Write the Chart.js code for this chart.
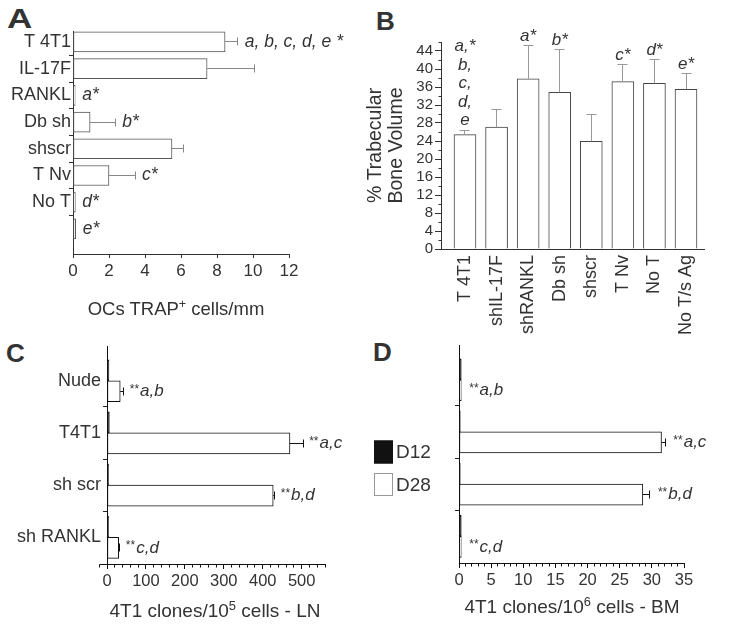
<!DOCTYPE html>
<html><head><meta charset="utf-8">
<script src="https://cdn.jsdelivr.net/npm/chart.js@4.4.1/dist/chart.umd.min.js"></script>
<style>
html,body{margin:0;padding:0;background:#fff;}
body{width:730px;height:625px;position:relative;overflow:hidden;font-family:"Liberation Sans",Arial,sans-serif;color:#333;}
.pane{position:absolute;}
.pane canvas{display:block;}
.letter{position:absolute;font-weight:bold;line-height:1;color:#333;transform-origin:left top;white-space:nowrap;}
.title{position:absolute;white-space:nowrap;line-height:1;color:#333;text-align:center;}
.title sup{font-size:0.68em;vertical-align:0.55em;line-height:0;}
</style></head><body>

<div class="letter" style="left:7px;top:4.6px;font-size:28px;transform:scaleX(1.25);">A</div>
<div class="letter" style="left:376px;top:8px;font-size:26px;">B</div>
<div class="letter" style="left:6px;top:339.7px;font-size:26px;">C</div>
<div class="letter" style="left:373px;top:338.7px;font-size:26px;">D</div>

<div class="pane" style="left:0;top:0;"><canvas id="cA" width="365" height="320"></canvas></div>
<div class="pane" style="left:365px;top:0;"><canvas id="cB" width="365" height="340"></canvas></div>
<div class="pane" style="left:0;top:320px;"><canvas id="cC" width="365" height="305"></canvas></div>
<div class="pane" style="left:365px;top:320px;"><canvas id="cD" width="365" height="305"></canvas></div>

<div class="title" style="left:26px;width:300px;top:300.3px;font-size:18.5px;">OCs TRAP<sup>+</sup> cells/mm</div>
<div class="title" style="left:65px;width:300px;top:600.6px;font-size:19px;">4T1 clones/10<sup>5</sup> cells - LN</div>
<div class="title" style="left:422px;width:300px;top:597px;font-size:19px;">4T1 clones/10<sup>6</sup> cells - BM</div>

<script>
// ---------- DATA ----------
// Panel A: OCs TRAP+ cells/mm
const catsA  = ["T 4T1", "IL-17F", "RANKL", "Db sh", "shscr", "T Nv", "No T", ""];
const valsA  = [8.45, 7.45, 0.12, 0.95, 5.5, 2.0, 0.13, 0.15];
const errA   = [0.7, 2.65, 0, 1.4, 0.65, 1.45, 0, 0];
const notesA = ["a, b, c, d, e *", "", "a*", "b*", "", "c*", "d*", "e*"];
const ticksA = [0, 2, 4, 6, 8, 10, 12];

// Panel B: % Trabecular Bone Volume
const catsB  = ["T 4T1", "shIL-17F", "shRANKL", "Db sh", "shscr", "T Nv", "No T", "No T/s Ag"];
const valsB  = [25.4, 27.1, 37.8, 34.8, 23.9, 37.2, 36.8, 35.5];
const errB   = [1.0, 4.0, 7.4, 9.5, 5.9, 3.8, 5.3, 3.5];
const notesB = [["a,*", "b,", "c,", "d,", "e"], [], ["a*"], ["b*"], [], ["c*"], ["d*"], ["e*"]];
const ticksB = [0, 4, 8, 12, 16, 20, 24, 28, 32, 36, 40, 44];

// Panels C & D: 4T1 clones
const catsCD    = ["Nude", "T4T1", "sh scr", "sh RANKL"];
const seriesCD  = ["D12", "D28"];
const cD12      = [5, 6, 4, 4];
const cD28      = [34, 470, 427, 30];
const cErr28    = [9, 34, 4, 3];
const notesC    = ["**a,b", "**a,c", "**b,d", "**c,d"];
const ticksC    = [0, 100, 200, 300, 400, 500];
const dD12      = [0.35, 0.2, 0.2, 0.35];
const dD28      = [0.35, 31.5, 28.6, 0.35];
const dErr28    = [0, 0.6, 1.1, 0];
const notesD    = ["**a,b", "**a,c", "**b,d", "**c,d"];
const ticksD    = [0, 5, 10, 15, 20, 25, 30, 35];

// ---------- HELPERS ----------
const FAM = '"Liberation Sans", Arial, sans-serif';
Chart.defaults.font.family = FAM;
Chart.defaults.color = '#333';
Chart.defaults.animation = false;

const al = p => Math.round(p - 0.5) + 0.5;
const innerTicks = color => ctx => (ctx.type === 'tick' && ctx.index > 0) ? color : 'rgba(0,0,0,0)';
const asPoints = (vals, horiz) => vals.map((v, i) => horiz ? {x: v, y: i} : {x: i, y: v});

function drawRich(c, t, x, y, font, starFont) {
  c.textBaseline = 'middle';
  c.textAlign = 'left';
  let s = t;
  if (t.startsWith('**')) {
    c.font = starFont;
    c.fillText('**', x, y - 2);
    x += c.measureText('**').width + 1;
    s = t.slice(2);
  }
  c.font = font;
  c.fillText(s, x, y);
}

function deco(o) {
  return {
    id: 'deco',
    afterDraw(chart) {
      const c = chart.ctx;
      c.save();
      const horiz = chart.options.indexAxis === 'y';
      const vS = horiz ? chart.scales.x : chart.scales.y;
      const axCol = o.axisColor || '#333';
      c.lineWidth = 1;
      // minor ticks
      (o.minor || []).forEach(m => {
        const s = chart.scales[m.axis];
        c.strokeStyle = axCol;
        c.beginPath();
        for (let k = Math.ceil(m.from / m.step); k * m.step <= s.max + 1e-9; k++) {
          const v = k * m.step;
          if (Math.abs(v / m.major - Math.round(v / m.major)) < 1e-6 && v >= 0) continue;
          const p = al(s.getPixelForValue(v));
          if (s.isHorizontal()) { const y0 = al(chart.chartArea.bottom); c.moveTo(p, y0); c.lineTo(p, y0 + m.len); }
          else { const x0 = al(chart.chartArea.left); c.moveTo(x0 - m.len, p); c.lineTo(x0, p); }
        }
        c.stroke();
      });
      // axis overhang to the left of zero
      if (o.overhang != null) {
        const xs = chart.scales.x, y0 = al(chart.chartArea.bottom);
        c.strokeStyle = axCol;
        c.beginPath();
        c.moveTo(al(xs.getPixelForValue(o.overhang)), y0);
        c.lineTo(chart.chartArea.left, y0);
        c.stroke();
      }
      // error bars
      (o.errs || []).forEach(eb => {
        const meta = chart.getDatasetMeta(eb.ds);
        c.strokeStyle = eb.color;
        c.lineWidth = 1;
        meta.data.forEach((el, i) => {
          const e = eb.errs[i];
          if (!e) return;
          const p = al(vS.getPixelForValue(eb.vals[i] + e));
          c.beginPath();
          if (horiz) {
            const y = al(el.y);
            c.moveTo(el.x, y); c.lineTo(p, y);
            c.moveTo(p, y - eb.cap); c.lineTo(p, y + eb.cap);
          } else {
            const x = al(el.x);
            c.moveTo(x, el.y); c.lineTo(x, p);
            c.moveTo(x - eb.cap, p); c.lineTo(x + eb.cap, p);
          }
          c.stroke();
        });
      });
      // notes
      (o.notes || []).forEach(nt => {
        const meta = chart.getDatasetMeta(nt.ds);
        c.fillStyle = '#333';
        meta.data.forEach((el, i) => {
          const t = nt.texts[i];
          if (!t || (Array.isArray(t) && !t.length)) return;
          const p = vS.getPixelForValue(nt.vals[i] + (nt.errs ? nt.errs[i] : 0));
          if (horiz) {
            drawRich(c, t, p + nt.gap, el.y + (nt.dy || 0), nt.font, nt.starFont);
          } else {
            c.font = nt.font;
            c.textAlign = 'center';
            c.textBaseline = 'alphabetic';
            const lines = t.slice().reverse();
            lines.forEach((ln, k) => c.fillText(ln, el.x + (nt.dx || 0), p - nt.gap - k * nt.lh));
          }
        });
      });
      // legend
      if (o.legend) {
        const L = o.legend;
        chart.data.datasets.forEach((ds, i) => {
          const y = L.y + i * L.dy;
          c.fillStyle = ds.backgroundColor;
          c.fillRect(L.x, y, L.w, L.h);
          c.strokeStyle = ds.legendBorder;
          c.strokeRect(L.x + 0.5, y + 0.5, L.w - 1, L.h - 1);
          c.fillStyle = '#333';
          c.font = L.font;
          c.textAlign = 'left';
          c.textBaseline = 'middle';
          c.fillText(ds.label, L.x + L.w + 3, y + L.h / 2 + 1);
        });
      }
      c.restore();
    }
  };
}

// ---------- PANEL A ----------
new Chart(document.getElementById('cA'), {
  type: 'bar',
  data: { datasets: [{
    data: asPoints(valsA, true),
    backgroundColor: '#fff', borderColor: '#555', borderWidth: 1, borderSkipped: false,
    barThickness: 20
  }]},
  options: {
    indexAxis: 'y', responsive: false, animation: false,
    layout: { padding: { left: 0, right: 76, top: 31, bottom: 0 } },
    plugins: { legend: { display: false }, tooltip: { enabled: false } },
    scales: {
      y: {
        type: 'linear', reverse: true, min: -0.41, max: 7.94, offset: false,
        afterBuildTicks: s => { s.ticks = catsA.map((_, i) => ({ value: i })); },
        afterFit: s => { s.width = 73; },
        ticks: { callback: v => catsA[v], autoSkip: false, font: { size: 18 }, color: '#333', padding: -2 },
        grid: { drawOnChartArea: false, offset: true, tickLength: 4, tickColor: innerTicks('#333') },
        border: { color: '#333', width: 1 }
      },
      x: {
        type: 'linear', min: ticksA[0], max: ticksA[ticksA.length - 1],
        afterBuildTicks: s => { s.ticks = ticksA.map(v => ({ value: v })); },
        afterFit: s => { s.height = 66; },
        ticks: { autoSkip: false, font: { size: 17 }, color: '#333', padding: 3 },
        grid: { drawOnChartArea: false, tickLength: 4, tickColor: '#333' },
        border: { color: '#333', width: 1 }
      }
    }
  },
  plugins: [deco({
    errs: [{ ds: 0, vals: valsA, errs: errA, color: '#888', cap: 4 }],
    notes: [{ ds: 0, vals: valsA, errs: errA, texts: notesA, gap: 7, font: 'italic 17.5px ' + FAM, starFont: '12px ' + FAM }]
  })]
});

// ---------- PANEL B ----------
new Chart(document.getElementById('cB'), {
  type: 'bar',
  data: { datasets: [{
    data: asPoints(valsB, false),
    backgroundColor: '#fff', borderColor: '#444', borderWidth: 1, borderSkipped: 'start',
    barThickness: 22
  }]},
  options: {
    responsive: false, animation: false,
    layout: { padding: { left: 0, right: 26, top: 42, bottom: 0 } },
    plugins: { legend: { display: false }, tooltip: { enabled: false } },
    scales: {
      x: {
        type: 'linear', min: -0.76, max: 7.57, offset: false,
        afterBuildTicks: s => { s.ticks = catsB.map((_, i) => ({ value: i })); },
        afterFit: s => { s.height = 91; },
        ticks: { callback: v => catsB[v], autoSkip: false, minRotation: 90, maxRotation: 90, font: { size: 18 }, color: '#333', padding: 6 },
        grid: { display: false, drawTicks: false },
        border: { display: true, color: '#333', width: 1 }
      },
      y: {
        type: 'linear', min: 0, max: 46,
        afterBuildTicks: s => { s.ticks = ticksB.map(v => ({ value: v })); },
        afterFit: s => { s.width = 76; },
        ticks: { autoSkip: false, font: { size: 15 }, color: '#333', padding: 2 },
        grid: { drawOnChartArea: false, tickLength: 6, tickColor: '#333' },
        border: { color: '#333', width: 1 },
        title: { display: true, text: ['% Trabecular', 'Bone Volume'], font: { size: 19.5, lineHeight: 1.08 }, color: '#333', padding: { top: 0, bottom: 0 } }
      }
    }
  },
  plugins: [deco({
    minor: [{ axis: 'y', from: 0, step: 2, major: 4, len: 3 }],
    errs: [{ ds: 0, vals: valsB, errs: errB, color: '#999', cap: 5 }],
    notes: [{ ds: 0, vals: valsB, errs: errB, texts: notesB, gap: 5, lh: 18.5, font: 'italic 17px ' + FAM }]
  })]
});

// ---------- PANEL C ----------
new Chart(document.getElementById('cC'), {
  type: 'bar',
  data: { datasets: [
    { label: seriesCD[0], data: asPoints(cD12, true), backgroundColor: '#111', borderColor: '#111', borderWidth: 1, borderSkipped: false, barThickness: 21 },
    { label: seriesCD[1], data: asPoints(cD28, true), backgroundColor: '#fff', borderColor: '#111', borderWidth: 1, borderSkipped: false, barThickness: 21 }
  ]},
  options: {
    indexAxis: 'y', responsive: false, animation: false,
    layout: { padding: { left: 0, right: 40, top: 26, bottom: 0 } },
    plugins: { legend: { display: false }, tooltip: { enabled: false } },
    scales: {
      y: {
        type: 'linear', reverse: true, min: -0.665, max: 3.51, offset: false,
        afterBuildTicks: s => { s.ticks = catsCD.map((_, i) => ({ value: i })); },
        afterFit: s => { s.width = 107; },
        ticks: { callback: v => catsCD[v], autoSkip: false, font: { size: 18 }, color: '#333', padding: 2 },
        grid: { drawOnChartArea: false, offset: true, tickLength: 4, tickColor: innerTicks('#222') },
        border: { color: '#111', width: 1 }
      },
      x: {
        type: 'linear', min: 0, max: 560,
        afterBuildTicks: s => { s.ticks = ticksC.map(v => ({ value: v })); },
        afterFit: s => { s.height = 61; },
        ticks: { autoSkip: false, font: { size: 16.5 }, color: '#333', padding: 3 },
        grid: { drawOnChartArea: false, tickLength: 5, tickColor: '#111' },
        border: { color: '#111', width: 1 }
      }
    }
  },
  plugins: [deco({
    axisColor: '#111', overhang: -20,
    minor: [{ axis: 'x', from: -20, step: 20, major: 100, len: 3 }],
    errs: [{ ds: 1, vals: cD28, errs: cErr28, color: '#111', cap: 4 }],
    notes: [{ ds: 1, vals: cD28, errs: cErr28, texts: notesC, gap: 6, font: 'italic 17px ' + FAM, starFont: '12px ' + FAM }]
  })]
});

// ---------- PANEL D ----------
new Chart(document.getElementById('cD'), {
  type: 'bar',
  data: { datasets: [
    { label: seriesCD[0], data: asPoints(dD12, true), backgroundColor: '#111', borderColor: '#111', borderWidth: 1, borderSkipped: false, barThickness: 21, legendBorder: '#111' },
    { label: seriesCD[1], data: asPoints(dD28, true), backgroundColor: '#fff', borderColor: '#111', borderWidth: 1, borderSkipped: false, barThickness: 21, legendBorder: '#999' }
  ]},
  options: {
    indexAxis: 'y', responsive: false, animation: false,
    layout: { padding: { left: 0, right: 46, top: 25, bottom: 0 } },
    plugins: { legend: { display: false }, tooltip: { enabled: false } },
    scales: {
      y: {
        type: 'linear', reverse: true, min: -0.665, max: 3.51, offset: false,
        afterBuildTicks: s => { s.ticks = catsCD.map((_, i) => ({ value: i })); },
        afterFit: s => { s.width = 94; },
        ticks: { display: false },
        grid: { drawOnChartArea: false, offset: true, tickLength: 4, tickColor: innerTicks('#222') },
        border: { color: '#111', width: 1 }
      },
      x: {
        type: 'linear', min: 0, max: 35,
        afterBuildTicks: s => { s.ticks = ticksD.map(v => ({ value: v })); },
        afterFit: s => { s.height = 62; },
        ticks: { autoSkip: false, font: { size: 16.5 }, color: '#333', padding: 3 },
        grid: { drawOnChartArea: false, tickLength: 5, tickColor: '#111' },
        border: { color: '#111', width: 1 }
      }
    }
  },
  plugins: [deco({
    axisColor: '#111',
    minor: [{ axis: 'x', from: 0, step: 1, major: 5, len: 3 }],
    errs: [{ ds: 1, vals: dD28, errs: dErr28, color: '#111', cap: 4 }],
    notes: [{ ds: 1, vals: dD28, errs: dErr28, texts: notesD, gap: 8, font: 'italic 17px ' + FAM, starFont: '12px ' + FAM }],
    legend: { x: 9, y: 120.5, w: 19, h: 23, dy: 32.5, font: '19px ' + FAM }
  })]
});
</script>
</body></html>
